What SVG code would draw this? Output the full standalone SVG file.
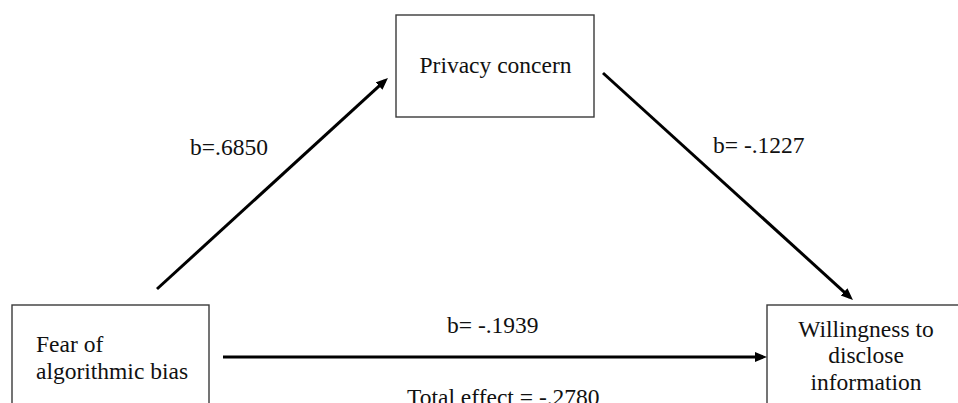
<svg xmlns="http://www.w3.org/2000/svg" width="958" height="403" viewBox="0 0 958 403">
<style>
.box{fill:#fff;stroke:#3a3a3a;stroke-width:1.4}
.t{font-family:'Liberation Serif','Times New Roman','DejaVu Serif',serif;font-size:23.5px;fill:#111}
.c{text-anchor:middle}
.arr{stroke:#000;stroke-width:3;fill:none;marker-end:url(#ah)}
</style>
<defs>
<marker id="ah" markerUnits="userSpaceOnUse" markerWidth="14" markerHeight="12" refX="8" refY="5" orient="auto">
<path d="M0,0 L12,5 L0,10 z" fill="#000"/>
</marker>
</defs>
<rect width="958" height="403" fill="#fff"/>
<g id="privacy">
<rect class="box" x="396" y="15" width="198" height="102"/>
<text class="t c" x="495.5" y="73" font-family="Liberation Serif, serif">Privacy concern</text>
</g>
<g id="fear">
<rect class="box" x="12" y="305" width="197" height="120"/>
<text class="t" x="36" y="352" font-family="Liberation Serif, serif">Fear of</text>
<text class="t" x="36" y="379" font-family="Liberation Serif, serif">algorithmic bias</text>
</g>
<g id="willingness">
<rect class="box" x="767" y="305" width="210" height="120"/>
<text class="t c" x="866" y="337" font-family="Liberation Serif, serif">Willingness to</text>
<text class="t c" x="866" y="363" font-family="Liberation Serif, serif">disclose</text>
<text class="t c" x="866" y="390" font-family="Liberation Serif, serif">information</text>
</g>
<g id="connectors">
<line class="arr" x1="157" y1="289" x2="385" y2="80.7"/>
<line class="arr" x1="603" y1="73" x2="850" y2="297.3"/>
<line class="arr" x1="223" y1="357" x2="763" y2="357"/>
<text class="t" x="190" y="155" font-family="Liberation Serif, serif">b=.6850</text>
<text class="t" x="713" y="153" font-family="Liberation Serif, serif">b= -.1227</text>
<text class="t" x="447" y="333" font-family="Liberation Serif, serif">b= -.1939</text>
<text class="t" x="407" y="405" font-family="Liberation Serif, serif">Total effect = -.2780</text>
</g>
</svg>
